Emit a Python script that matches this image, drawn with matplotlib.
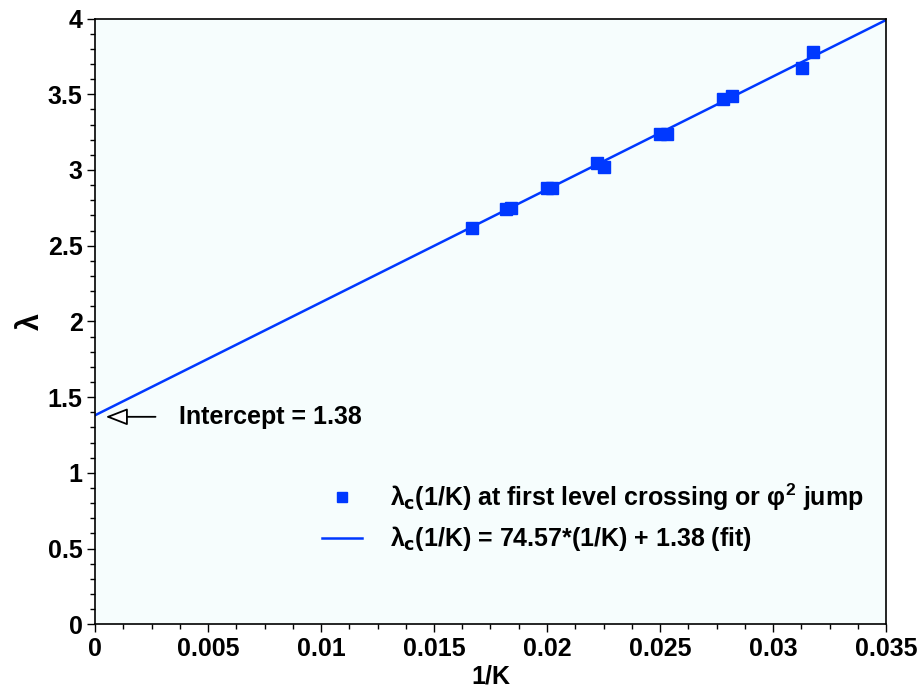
import matplotlib
matplotlib.use('Agg')
import matplotlib.pyplot as plt
import numpy as np
from matplotlib.ticker import MultipleLocator, FormatStrFormatter

# data
inv_k = [0.01667, 0.0182, 0.0184, 0.0200, 0.0202, 0.02222, 0.0225,
         0.0250, 0.0253, 0.0278, 0.02817, 0.03127, 0.03175]
lam_c = [2.619, 2.742, 2.752, 2.881, 2.881, 3.045, 3.022,
         3.237, 3.237, 3.466, 3.488, 3.675, 3.781]
slope = 74.57
intercept = 1.38
fit_x = [0.0, 0.035]

plt.rcParams['font.family'] = ['Liberation Sans', 'DejaVu Sans']
plt.rcParams['font.weight'] = 'bold'
plt.rcParams['mathtext.fontset'] = 'custom'
plt.rcParams['mathtext.rm'] = 'Liberation Sans:bold'
plt.rcParams['mathtext.it'] = 'Liberation Sans:bold'
plt.rcParams['mathtext.bf'] = 'Liberation Sans:bold'

blue = '#0038ff'
fs = 18

fig = plt.figure(figsize=(9.23, 6.91), dpi=100)
ax = fig.add_axes([95/923, 1 - 624.3/691, (886-95)/923, (624.3-18.5)/691])
ax.set_facecolor('#f6fdfd')

ax.plot(inv_k, lam_c, 's', color=blue, markersize=8.5, linestyle='none',
        label=r'$\lambda_{\mathsf{c}}$(1/K) at first level crossing or $\varphi^{2}$ jump')
fx = np.array(fit_x)
ax.plot(fx, slope*fx + intercept, '-', color=blue, lw=1.8,
        label=r'$\lambda_{\mathsf{c}}$(1/K) = 74.57*(1/K) + 1.38 (fit)')

ax.set_xlim(0, 0.035)
ax.set_ylim(0, 4)
ax.xaxis.set_major_locator(MultipleLocator(0.005))
ax.xaxis.set_minor_locator(MultipleLocator(0.00125))
ax.yaxis.set_major_locator(MultipleLocator(0.5))
ax.yaxis.set_minor_locator(MultipleLocator(0.1))
ax.xaxis.set_major_formatter(FormatStrFormatter('%g'))
ax.yaxis.set_major_formatter(FormatStrFormatter('%g'))
ax.tick_params(which='both', direction='out', top=False, right=False,
               labelsize=fs, width=1)
ax.tick_params(which='major', length=6, pad=3)
ax.tick_params(which='minor', length=3.5)
for s in ax.spines.values():
    s.set_linewidth(1.2)

ax.set_xlabel('1/K', fontsize=fs, fontweight='bold', labelpad=3)
ax.set_ylabel(r'$\lambda$', fontsize=22, labelpad=1)

ax.annotate('', xy=(0.00035, 1.37), xytext=(0.0028, 1.37),
            arrowprops=dict(arrowstyle='-|>,head_length=0.9,head_width=0.35',
                            mutation_scale=15, fc='white', ec='black', lw=1.3))
ax.text(0.0037, 1.37, 'Intercept = 1.38', fontsize=fs, fontweight='bold',
        va='center', ha='left')

ax.legend(loc='lower right', bbox_to_anchor=(1.0, 0.08), frameon=False,
          fontsize=fs, handlelength=1.6, handletextpad=1.1,
          labelspacing=0.45, markerscale=0.9)

fig.savefig('out.png', dpi=100)
